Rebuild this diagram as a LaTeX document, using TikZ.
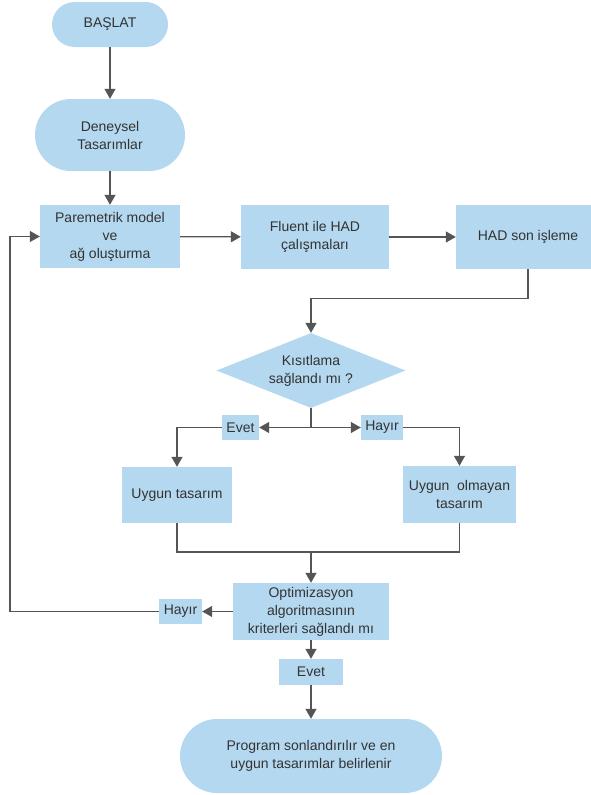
\documentclass[tikz,border=0pt]{standalone}
\usepackage{fontspec}
\setmainfont{Liberation Sans}
\usetikzlibrary{shapes.geometric,arrows.meta}
\definecolor{boxblue}{RGB}{180,216,239}
\definecolor{txtgray}{RGB}{51,51,51}
\definecolor{linegray}{RGB}{85,85,85}
\tikzset{
  base/.style={fill=boxblue, draw=none, text=txtgray, align=center, inner sep=0pt,
    font=\fontsize{14}{18}\selectfont},
  procbox/.style={base, rectangle},
  stadium/.style={base, rectangle},
  lbl/.style={base, rectangle},
  decis/.style={base, diamond, aspect=2.5},
  conn/.style={draw=linegray, line width=1.2pt},
  arr/.style={conn, -{Triangle[length=10pt,width=11pt]}}
}
\begin{document}
\begin{tikzpicture}[x=1pt,y=-1pt]
\useasboundingbox (0,0) rectangle (590,795);
% nodes
\node[stadium, minimum width=116pt, minimum height=45pt, rounded corners=22.5pt] (start) at (110,24.5) {BAŞLAT};
\node[stadium, minimum width=150pt, minimum height=72pt, rounded corners=36pt] (deney) at (110,135) {Deneysel\\Tasarımlar};
\node[procbox, minimum width=140pt, minimum height=63pt] (param) at (110,236.5) {Paremetrik model\\ve\\ağ oluşturma};
\node[procbox, minimum width=148pt, minimum height=64pt] (fluent) at (315,237) {Fluent ile HAD\\çalışmaları};
\node[procbox, minimum width=144pt, minimum height=64pt] (had) at (528,237) {HAD son işleme};
\node[decis, minimum width=189pt, minimum height=75pt] (kisit) at (311,370.5) {Kısıtlama\\sağlandı mı ?};
\node[lbl, minimum width=37pt, minimum height=25pt] (evet1) at (240.5,427.5) {Evet};
\node[lbl, minimum width=42pt, minimum height=25pt] (hayir1) at (382,427.5) {Hayır};
\node[procbox, minimum width=110pt, minimum height=56pt] (uygun) at (177,495) {Uygun tasarım};
\node[procbox, minimum width=113pt, minimum height=57pt] (uyg2) at (459.5,494.5) {Uygun\ \ olmayan\\tasarım};
\node[procbox, minimum width=156pt, minimum height=57pt] (opt) at (311,611.5) {Optimizasyon\\algoritmasının\\kriterleri sağlandı mı};
\node[lbl, minimum width=43pt, minimum height=25pt] (hayir2) at (180.5,611.5) {Hayır};
\node[lbl, minimum width=64pt, minimum height=26pt] (evet2) at (311,672) {Evet};
\node[stadium, minimum width=262pt, minimum height=74pt, rounded corners=37pt] (final) at (311,756) {Program sonlandırılır ve en\\uygun tasarımlar belirlenir};
% helper coordinates
\coordinate (split) at (311,427.5);
\coordinate (merge) at (311,552);
\coordinate (lp) at (10,611.5);
% connectors
\draw[arr] (start) -- (deney);
\draw[arr] (deney) -- (param);
\draw[arr] (param) -- (fluent);
\draw[arr] (fluent) -- (had);
\draw[arr] (had.south) -- ++(0,29) -| (kisit.north);
\draw[conn] (kisit.south) -- (split);
\draw[arr] (split) -- (evet1.east);
\draw[arr] (split) -- (hayir1.west);
\draw[arr] (evet1.west) -| (uygun.north);
\draw[arr] (hayir1.east) -| (uyg2.north);
\draw[conn] (uygun.south) |- (merge);
\draw[conn] (uyg2.south) |- (merge);
\draw[arr] (merge) -- (opt.north);
\draw[arr] (opt.west) -- (hayir2.east);
\draw[arr] (hayir2.west) -- (lp) |- (param.west);
\draw[arr] (opt.south) -- (evet2.north);
\draw[arr] (evet2.south) -- (final.north);
\end{tikzpicture}
\end{document}
